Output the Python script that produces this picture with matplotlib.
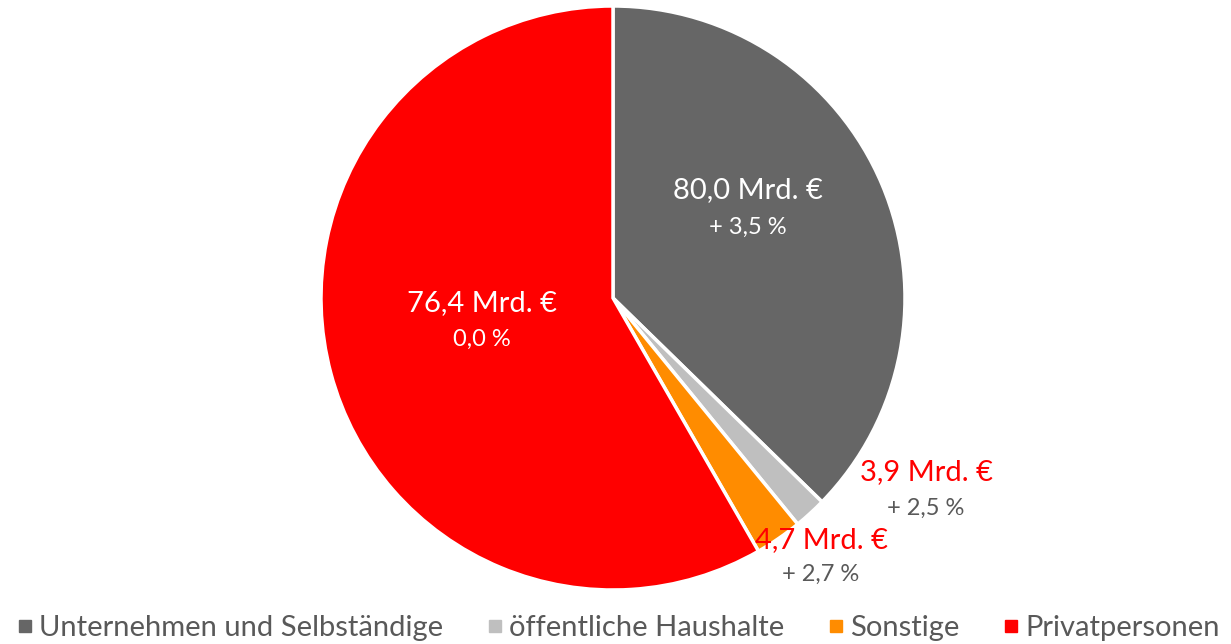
import matplotlib.pyplot as plt
from matplotlib.lines import Line2D

plt.rcParams['font.family'] = ['Lato', 'DejaVu Sans']

# categories and values
categories = ['Unternehmen und Selbständige', 'öffentliche Haushalte', 'Sonstige', 'Privatpersonen']
amounts = ['80,0 Mrd. €', '3,9 Mrd. €', '4,7 Mrd. €', '76,4 Mrd. €']
changes = ['+ 3,5 %', '+ 2,5 %', '+ 2,7 %', '0,0 %']
# wedge shares as drawn in the picture (percent)
shares = [37.3, 1.8, 2.6, 58.3]
colors = ['#666666', '#BFBFBF', '#FF8C00', '#FF0000']

W, H = 1231, 644
cx, cy, R = 613, 298, 292

fig = plt.figure(figsize=(W / 100, H / 100), dpi=100)
ax = fig.add_axes([0, 0, 1, 1])
ax.pie(shares, colors=colors, startangle=90, counterclock=False,
       radius=1.0, wedgeprops=dict(edgecolor='white', linewidth=2.5))
ax.set_aspect('auto')
ax.set_xlim(-cx / R, (W - cx) / R)
ax.set_ylim(-(H - cy) / R, cy / R)


def px(x, y):
    # pixel position -> data coords
    return (x - cx) / R, (cy - y) / R


# label positions (pixels, centre of text)
lab_pos = [(748, 190), (926, 472), (821, 540), (482, 303)]
chg_pos = [(748, 227), (926, 508), (821, 574), (482, 339)]
lab_col = ['white', '#FF0000', '#FF0000', 'white']
chg_col = ['white', '#595959', '#595959', 'white']
for i in range(len(categories)):
    x, y = px(*lab_pos[i])
    ax.text(x, y, amounts[i], color=lab_col[i], fontsize=21, ha='center', va='center')
    x, y = px(*chg_pos[i])
    ax.text(x, y, changes[i], color=chg_col[i], fontsize=17, ha='center', va='center')

handles = [Line2D([], [], marker='s', linestyle='none', markersize=8.5,
                  markerfacecolor=c, markeredgecolor=c) for c in colors]
fig.legend(handles, categories, loc='lower center', bbox_to_anchor=(0.503, -0.036),
           ncol=4, frameon=False, fontsize=21, labelcolor='#595959',
           handlelength=0.45, handletextpad=0.25, columnspacing=1.55)

fig.savefig('out.png', dpi=100)
